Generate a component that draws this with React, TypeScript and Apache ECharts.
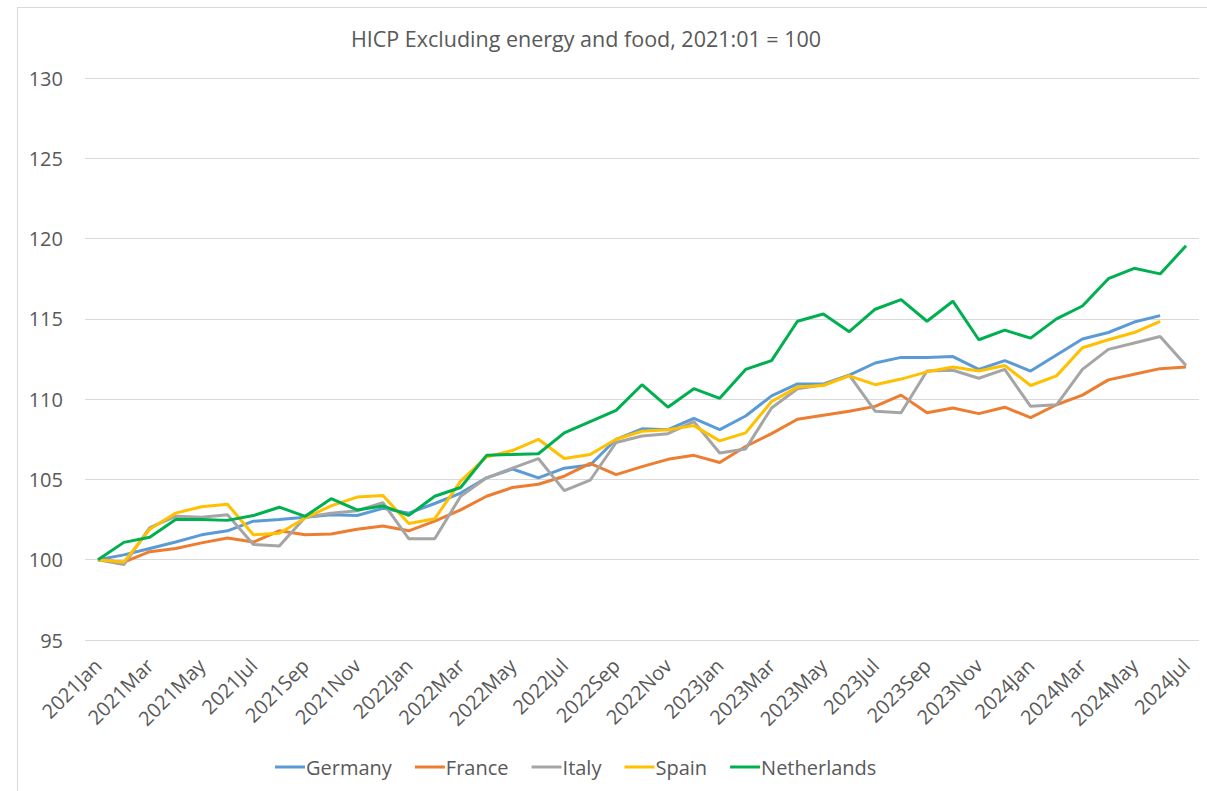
import React, { useEffect, useRef } from "react";
import * as echarts from "echarts";

const years = ["2021", "2022", "2023", "2024"];
const monthNames = ["Jan", "Feb", "Mar", "Apr", "May", "Jun", "Jul", "Aug", "Sep", "Oct", "Nov", "Dec"];
const categories: string[] = [];
for (const y of years) {
  for (const m of monthNames) {
    if (y === "2024" && monthNames.indexOf(m) > 6) break;
    categories.push(y + m);
  }
}

const germany = [100, 100.3, 100.7, 101.1, 101.55, 101.8, 102.4, 102.5, 102.65, 102.8, 102.75, 103.2, 102.9, 103.5, 104.15, 105.1, 105.65, 105.1, 105.7, 105.9, 107.5, 108.15, 108.1, 108.8, 108.1, 108.95, 110.2, 110.95, 110.95, 111.5, 112.25, 112.6, 112.6, 112.65, 111.85, 112.4, 111.75, 112.75, 113.75, 114.15, 114.8, 115.2, null];
const france = [100, 99.85, 100.5, 100.7, 101.05, 101.35, 101.1, 101.8, 101.55, 101.6, 101.9, 102.1, 101.8, 102.4, 103.1, 103.95, 104.5, 104.7, 105.2, 106.0, 105.3, 105.8, 106.25, 106.5, 106.05, 107.05, 107.85, 108.75, 109.0, 109.25, 109.55, 110.25, 109.15, 109.45, 109.1, 109.5, 108.85, 109.65, 110.25, 111.2, 111.55, 111.9, 112.0];
const italy = [100, 99.7, 102.0, 102.7, 102.65, 102.8, 100.95, 100.85, 102.65, 102.9, 103.05, 103.55, 101.3, 101.3, 103.95, 105.1, 105.7, 106.3, 104.3, 104.95, 107.3, 107.7, 107.85, 108.6, 106.65, 106.9, 109.45, 110.65, 110.9, 111.5, 109.25, 109.15, 111.75, 111.8, 111.3, 111.85, 109.55, 109.65, 111.85, 113.1, 113.5, 113.9, 112.1];
const spain = [100, 99.85, 101.9, 102.9, 103.3, 103.45, 101.55, 101.65, 102.6, 103.35, 103.9, 104.0, 102.25, 102.55, 104.9, 106.4, 106.8, 107.5, 106.3, 106.55, 107.5, 108.0, 108.1, 108.35, 107.4, 107.9, 109.85, 110.75, 110.85, 111.45, 110.9, 111.25, 111.7, 112.0, 111.75, 112.1, 110.85, 111.45, 113.2, 113.7, 114.15, 114.85, null];
const netherlands = [100, 101.08, 101.4, 102.5, 102.5, 102.45, 102.75, 103.27, 102.7, 103.8, 103.1, 103.35, 102.76, 103.95, 104.5, 106.5, 106.55, 106.6, 107.9, 108.6, 109.3, 110.9, 109.5, 110.65, 110.05, 111.85, 112.4, 114.85, 115.3, 114.2, 115.6, 116.2, 114.85, 116.1, 113.7, 114.3, 113.8, 115.0, 115.8, 117.5, 118.15, 117.8, 119.55];

const seriesNames = ["Germany", "France", "Italy", "Spain", "Netherlands"];
const seriesData = [germany, france, italy, spain, netherlands];
const colors = ["#5B9BD5", "#ED7D31", "#A5A5A5", "#FFC000", "#00B050"];

const FONT = "'Open Sans', 'Noto Sans', sans-serif";
const TEXT = "#595959";

export default function App() {
  const ref = useRef<HTMLDivElement>(null);
  useEffect(() => {
    if (!ref.current) return;
    const chart = echarts.init(ref.current, null, { renderer: "svg" });
    chart.setOption({
      animation: false,
      backgroundColor: "#ffffff",
      textStyle: { fontFamily: FONT },
      title: {
        text: "HICP Excluding energy and food, 2021:01 = 100",
        left: 581,
        textAlign: "center",
        top: 22,
        textStyle: { fontFamily: FONT, fontSize: 21.5, fontWeight: "normal", color: TEXT },
      },
      graphic: [
        {
          type: "rect",
          shape: { x: 17.5, y: 7.5, width: 1250, height: 850 },
          style: { fill: "none", stroke: "#D9D9D9", lineWidth: 1 },
          silent: true,
        },
      ],
      legend: {
        left: 270,
        top: 752,
        itemWidth: 30,
        itemHeight: 3,
        itemGap: 23,
        icon: "rect",
        textStyle: { fontFamily: FONT, fontSize: 20, color: TEXT, padding: [0, 0, 0, -4] },
        data: seriesNames,
      },
      grid: { left: 85, right: 8, top: 78, bottom: 151, containLabel: false },
      xAxis: {
        type: "category",
        data: categories,
        boundaryGap: true,
        axisLine: { show: false },
        axisTick: { show: false },
        axisLabel: {
          interval: 1,
          rotate: 45,
          margin: 22,
          fontFamily: FONT,
          fontSize: 20,
          color: TEXT,
        },
      },
      yAxis: {
        type: "value",
        min: 95,
        max: 130,
        interval: 5,
        axisLine: { show: false },
        axisTick: { show: false },
        axisLabel: { fontFamily: FONT, fontSize: 20, color: TEXT, margin: 22 },
        splitLine: { lineStyle: { color: "#D9D9D9", width: 1 } },
      },
      series: seriesNames.map((name, i) => ({
        name,
        type: "line",
        data: seriesData[i],
        symbol: "none",
        color: colors[i],
        lineStyle: { width: 3, color: colors[i] },
        connectNulls: false,
      })),
    });
    return () => chart.dispose();
  }, []);
  return <div ref={ref} style={{ position: "fixed", left: 0, top: 0, width: 1207, height: 791 }} />;
}
